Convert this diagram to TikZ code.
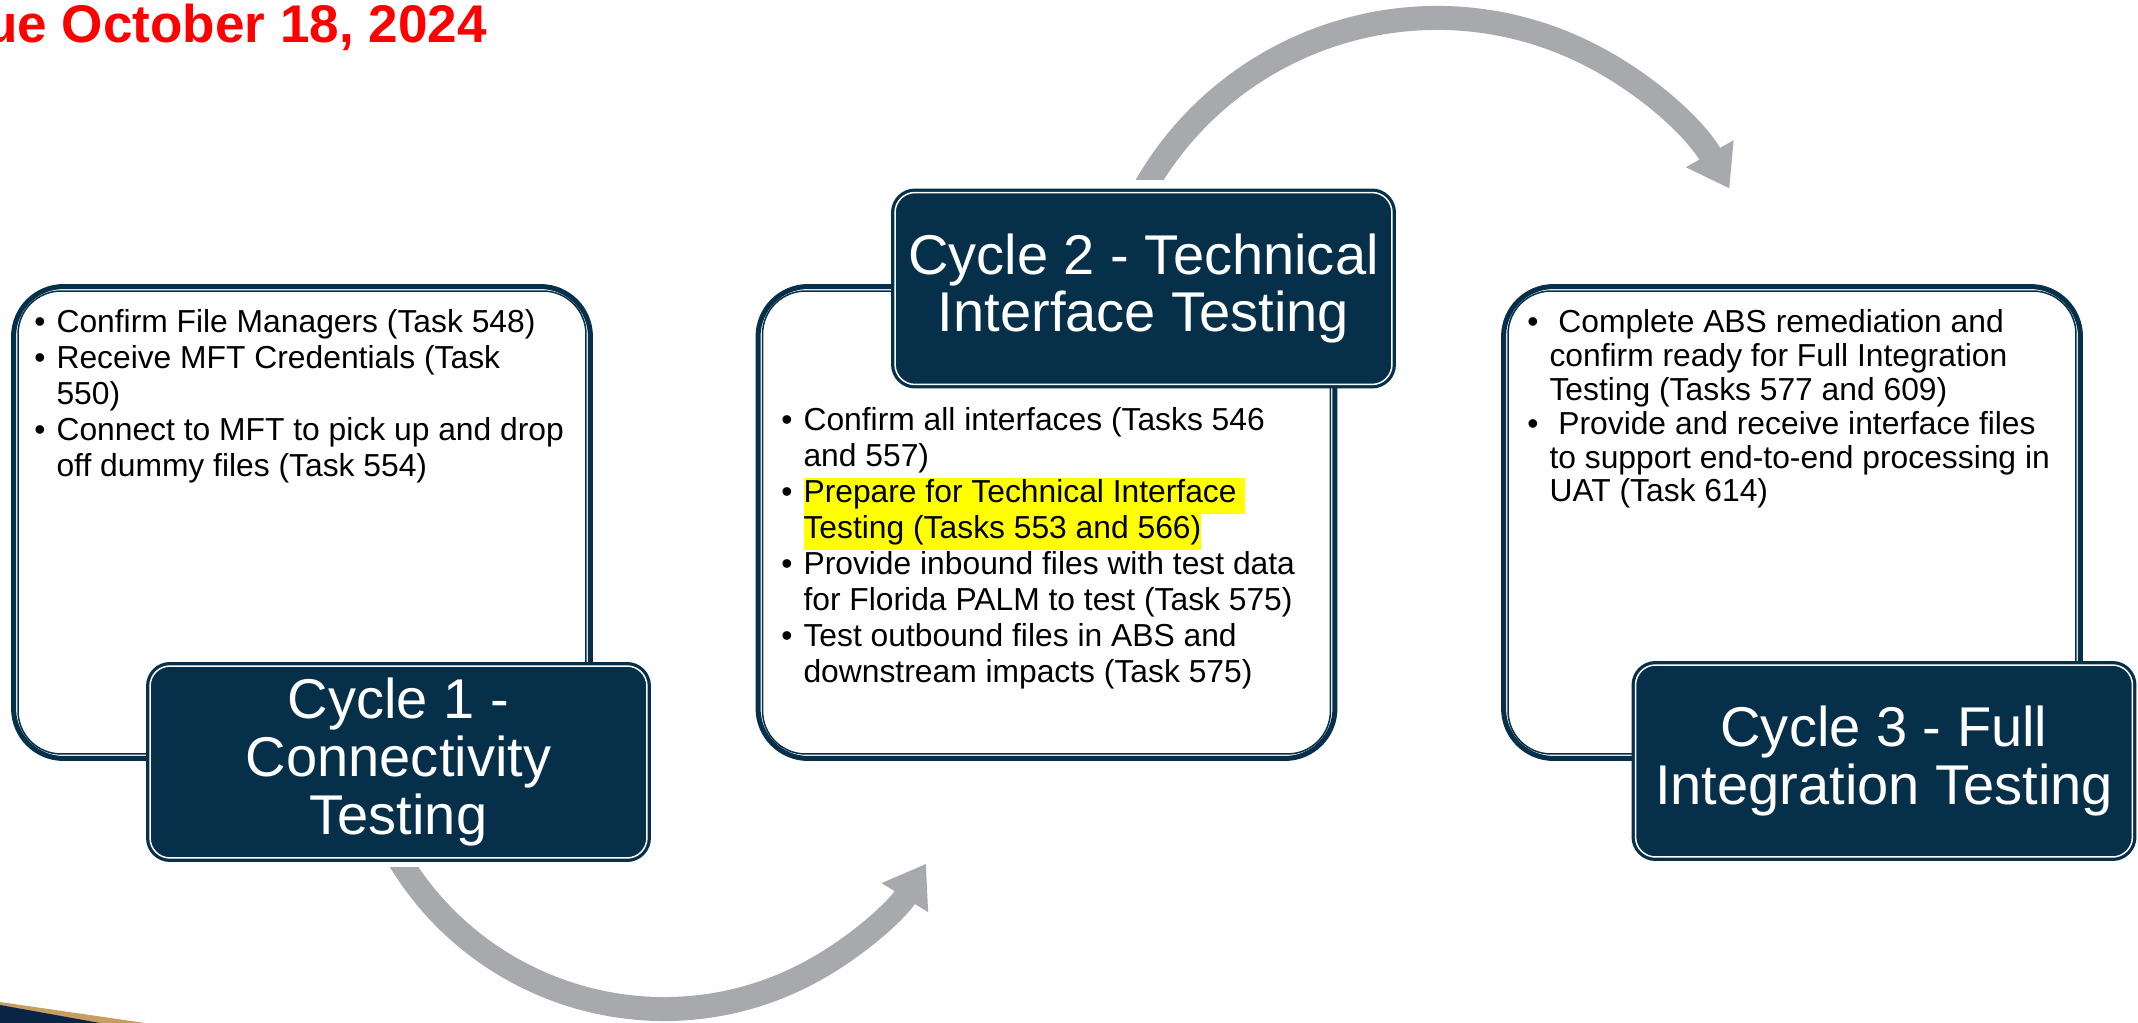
\documentclass[tikz,border=0pt]{standalone}
\usepackage{fontspec}
\setmainfont{Liberation Sans}
\usetikzlibrary{arrows.meta}
\definecolor{navy}{RGB}{6,48,74}
\definecolor{arrowgray}{RGB}{167,169,172}
\definecolor{hiyellow}{RGB}{255,255,0}
\definecolor{gold}{RGB}{199,158,98}
\definecolor{cornernavy}{RGB}{10,36,70}
\newcommand{\bulletfont}{\fontsize{18.1pt}{20.49pt}\selectfont}
\newcommand{\tightfont}{\fontsize{18.1pt}{19.23pt}\selectfont}
\newcommand{\titlefont}{\fontsize{31.9pt}{32.8pt}\selectfont}
\newcommand{\hlt}[1]{{\setlength{\fboxsep}{0pt}\colorbox{hiyellow}{\strut #1}}}
\begin{document}
\begin{tikzpicture}[x=0.02cm, y=-0.02cm,
  taskbox/.style={draw=navy, line width=0.1cm, rounded corners=1cm, minimum width=11.54cm, minimum height=9.44cm, inner sep=0pt},
  boxinner/.style={draw=navy, line width=0.03cm, rounded corners=0.86cm},
  titlebox/.style={fill=navy, draw=white, line width=0.03cm, rounded corners=0.4cm, preaction={draw=navy, line width=0.16cm}, minimum width=9.94cm, minimum height=3.84cm, text=white, align=center, font=\titlefont},
  tasks/.style={anchor=base west, inner sep=0pt, font=\bulletfont},
  cyclearrow/.style={draw=arrowgray, line width=0.48cm, -{Triangle[width=1.04cm, length=0.8cm]}}]
  \path[use as bounding box, fill=white] (0,0) rectangle (2138,1023);
  % corner of the slide
  \fill[gold] (0,1002) -- (145,1023) -- (0,1023) -- cycle;
  \fill[cornernavy] (0,1005) -- (100,1023) -- (0,1023) -- cycle;
  % arrows between cycles
  \begin{scope}
    \clip (0,867) -- (650,867) -- (650,0) -- (2138,0) -- (2138,1023) -- (0,1023) -- cycle;
    \coordinate (lowarc) at (664,700);
    \draw[cyclearrow] (lowarc) ++(152:309) arc[start angle=152, end angle=32, radius=309];
  \end{scope}
  \begin{scope}
    \clip (0,0) -- (2138,0) -- (2138,1023) -- (1300,1023) -- (1300,180) -- (0,180) -- cycle;
    \coordinate (higharc) at (1437,354);
    \draw[cyclearrow] (higharc) ++(-155:336) arc[start angle=-155, end angle=-29.5, radius=336];
  \end{scope}
  % task boxes
  \node[taskbox] (boxone) at (302,522.5) {};
  \node[taskbox] (boxtwo) at (1046.5,522.5) {};
  \node[taskbox] (boxthree) at (1792,522.5) {};
  \foreach \b in {boxone,boxtwo,boxthree}
    \draw[boxinner] ([shift={(7,7)}]\b.north west) rectangle ([shift={(-7,-7)}]\b.south east);
  \node[tasks] (tasksone) at (34,333) {\begin{tabular}[t]{@{}l@{\hspace{6.3pt}}l@{}}
    • & Confirm File Managers (Task 548)\\
    • & Receive MFT Credentials (Task\\
      & 550)\\
    • & Connect to MFT to pick up and drop\\
      & off dummy files (Task 554)
  \end{tabular}};
  \node[tasks] (taskstwo) at (781,431) {\begin{tabular}[t]{@{}l@{\hspace{6.3pt}}l@{}}
    • & Confirm all interfaces (Tasks 546\\
      & and 557)\\
    • & \hlt{Prepare for Technical Interface\ }\\
      & \hlt{Testing (Tasks 553 and 566)}\\
    • & Provide inbound files with test data\\
      & for Florida PALM to test (Task 575)\\
    • & Test outbound files in ABS and\\
      & downstream impacts (Task 575)
  \end{tabular}};
  \node[tasks, font=\tightfont] (tasksthree) at (1527,333) {\begin{tabular}[t]{@{}l@{\hspace{6.3pt}}l@{}}
    • & \ Complete ABS remediation and\\
      & confirm ready for Full Integration\\
      & Testing (Tasks 577 and 609)\\
    • & \ Provide and receive interface files\\
      & to support end-to-end processing in\\
      & UAT (Task 614)
  \end{tabular}};
  % cycle titles
  \node[titlebox] (cycleone) at (398.5,762) {Cycle 1 -\\Connectivity\\Testing};
  \node[titlebox] (cycletwo) at (1143.5,288.5) {Cycle 2 - Technical\\Interface Testing};
  \node[titlebox] (cyclethree) at (1884,761) {Cycle 3 - Full\\Integration Testing};
  \node[anchor=base east, inner sep=0pt, text=red, font=\bfseries\fontsize{30.2pt}{36pt}\selectfont] (duedate) at (487,43) {ue October 18, 2024};
\end{tikzpicture}
\end{document}
